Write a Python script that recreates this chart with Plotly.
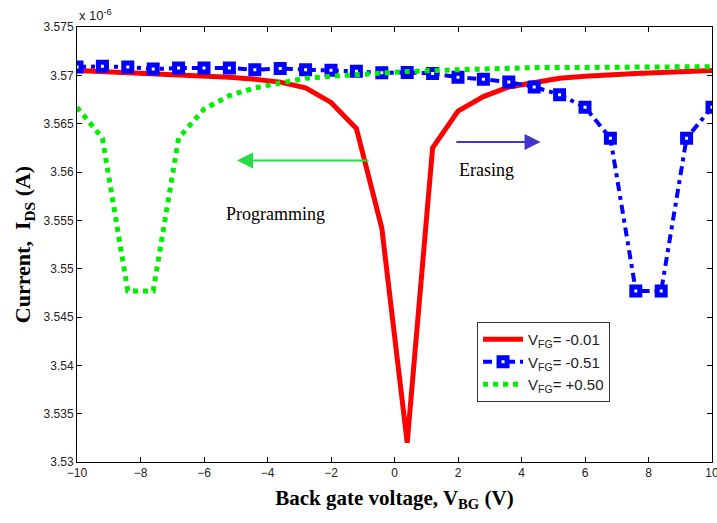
import plotly.graph_objects as go

# Back gate voltage grid (V)
v_bg = [-10.0, -9.2, -8.4, -7.6, -6.8, -6.0, -5.2, -4.4, -3.6, -2.8, -2.0, -1.2, -0.4,
        0.4, 1.2, 2.0, 2.8, 3.6, 4.4, 5.2, 6.0, 6.8, 7.6, 8.4, 9.2, 10.0]

# Currents in units of 1e-6 A
i_fg_m001 = [3.5705, 3.5704, 3.5703, 3.5702, 3.5701, 3.56995, 3.5698, 3.5696, 3.5693, 3.5687,
             3.5672, 3.5645, 3.5542, 3.5320, 3.5625, 3.5663, 3.5678, 3.5688, 3.5693, 3.5697,
             3.5699, 3.5701, 3.5702, 3.5703, 3.5704, 3.5705]
i_fg_m051 = [3.57086, 3.57093, 3.57086, 3.57065, 3.57075, 3.57075, 3.57075, 3.57059, 3.5707, 3.57059,
             3.57052, 3.57041, 3.57026, 3.5703, 3.5702, 3.5698, 3.5696, 3.5693, 3.5688, 3.5680,
             3.5667, 3.5635, 3.5477, 3.5477, 3.5635, 3.5667]
i_fg_p050 = [3.5667, 3.5635, 3.5477, 3.5477, 3.5635, 3.5665, 3.5679, 3.5687, 3.5692, 3.5697,
             3.5699, 3.5701, 3.5703, 3.5704, 3.5705, 3.5706, 3.5707, 3.5707, 3.5708, 3.5708,
             3.5708, 3.5709, 3.5709, 3.5709, 3.5709, 3.5709]

series_names = ["V<sub>FG</sub>= -0.01", "V<sub>FG</sub>= -0.51", "V<sub>FG</sub>= +0.50"]

x_ticks = [-10, -8, -6, -4, -2, 0, 2, 4, 6, 8, 10]
y_ticks = [3.53, 3.535, 3.54, 3.545, 3.55, 3.555, 3.56, 3.565, 3.57, 3.575]
y_ticktext = ["3.53", "3.535", "3.54", "3.545", "3.55", "3.555", "3.56", "3.565", "3.57", "3.575"]

fig = go.Figure()
fig.add_trace(go.Scatter(x=v_bg, y=i_fg_m001, mode="lines", name=series_names[0],
                         line=dict(color="#ff0000", width=5)))
fig.add_trace(go.Scatter(x=v_bg, y=i_fg_m051, mode="lines+markers", name=series_names[1],
                         line=dict(color="#0000ff", width=4, dash="9px,5px,4px,5px"),
                         marker=dict(symbol="square", size=8, color="white",
                                     line=dict(color="#0000ff", width=5))))
fig.add_trace(go.Scatter(x=v_bg, y=i_fg_p050, mode="lines", name=series_names[2],
                         line=dict(color="#00ee00", width=5, dash="5px,5px")))

serif = "Liberation Serif, Times New Roman, serif"
sans = "Liberation Sans, Arial, sans-serif"

annotations = [
    dict(x=-4.96, y=3.5612, ax=-0.77, ay=3.5612, xref="x", yref="y", axref="x", ayref="y",
         showarrow=True, arrowhead=2, arrowsize=1.6, arrowwidth=2, arrowcolor="#22dd44", text=""),
    dict(x=4.6, y=3.5631, ax=1.9, ay=3.5631, xref="x", yref="y", axref="x", ayref="y",
         showarrow=True, arrowhead=2, arrowsize=1.6, arrowwidth=2, arrowcolor="#4433cc", text=""),
    dict(x=-3.76, y=3.5557, xref="x", yref="y", text="Programming", showarrow=False,
         font=dict(family=serif, size=18, color="black")),
    dict(x=2.9, y=3.5602, xref="x", yref="y", text="Erasing", showarrow=False,
         font=dict(family=serif, size=18, color="black")),
    dict(x=0.0, y=1.0, xref="paper", yref="paper", xanchor="left", yanchor="bottom",
         yshift=2, text="x 10<sup>-6</sup>", showarrow=False,
         font=dict(family=sans, size=13, color="#222")),
]

fig.update_layout(
    width=717, height=523,
    margin=dict(l=77, r=5, t=27, b=61),
    paper_bgcolor="white", plot_bgcolor="white",
    annotations=annotations,
    legend=dict(x=0.63, y=0.322, xanchor="left", yanchor="top",
                bgcolor="white", bordercolor="#333", borderwidth=1,
                font=dict(family=sans, size=15, color="#222"), itemwidth=40),
    xaxis=dict(range=[-10, 10], tickvals=x_ticks, ticks="inside", ticklen=5,
               showline=True, linecolor="black", linewidth=1, mirror="ticks",
               showgrid=False, zeroline=False, tickcolor="black",
               ticklabeloverflow="allow", automargin=False,
               tickfont=dict(family=sans, size=12, color="#222"),
               title=dict(text="<b>Back gate voltage, V<sub>BG</sub> (V)</b>",
                          font=dict(family=serif, size=21, color="black"), standoff=10)),
    yaxis=dict(range=[3.53, 3.575], tickvals=y_ticks, ticktext=y_ticktext, ticks="inside", ticklen=5,
               showline=True, linecolor="black", linewidth=1, mirror="ticks",
               showgrid=False, zeroline=False, tickcolor="black", automargin=False,
               tickfont=dict(family=sans, size=12, color="#222"),
               title=dict(text="<b>Current,  I<sub>DS</sub> (A)</b>",
                          font=dict(family=serif, size=22, color="black"), standoff=6)),
)

fig.write_html("out.html")
